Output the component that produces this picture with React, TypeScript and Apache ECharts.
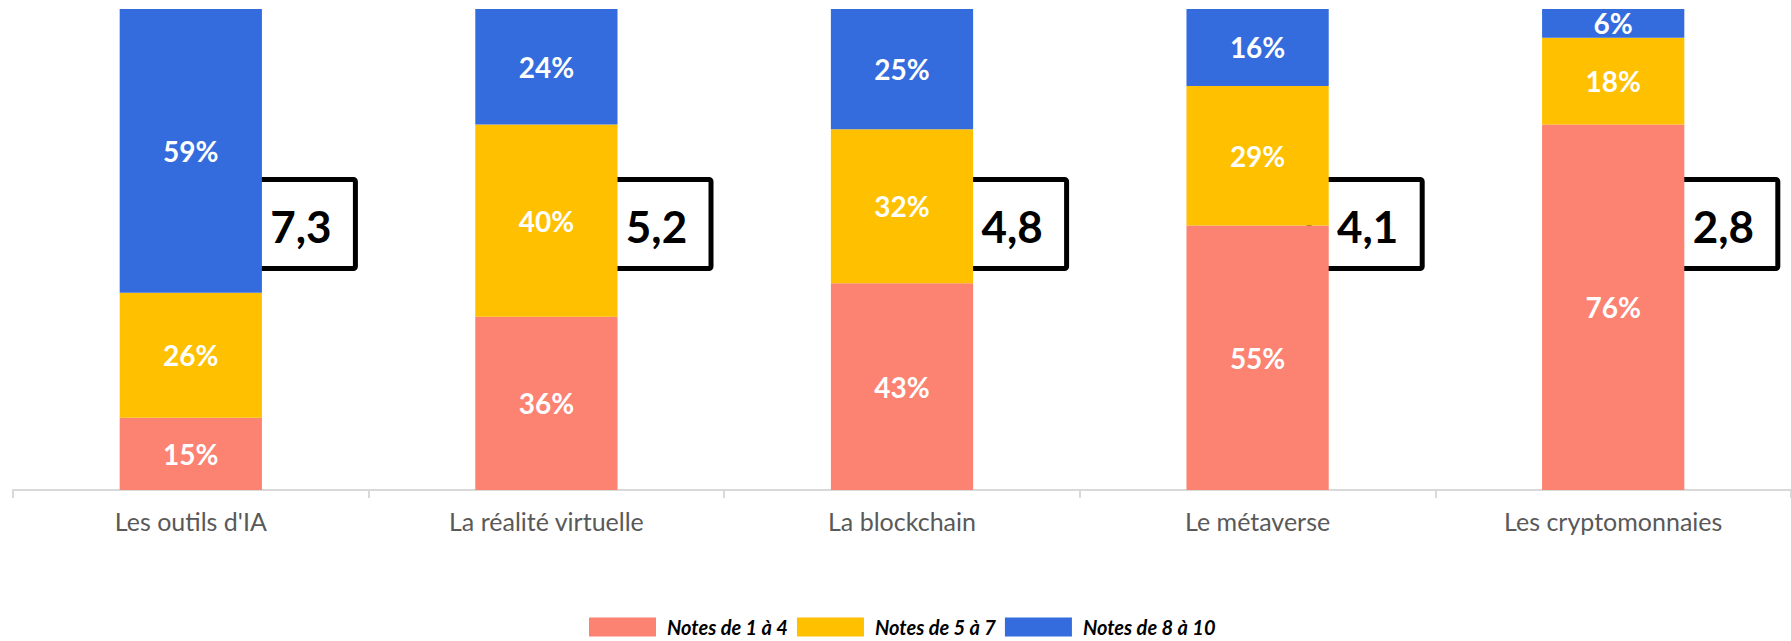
import React, { useEffect, useRef } from "react";
import * as echarts from "echarts";

const CATEGORIES = [
  "Les outils d'IA",
  "La réalité virtuelle",
  "La blockchain",
  "Le métaverse",
  "Les cryptomonnaies",
];
const SERIES_NAMES = ["Notes de 1 à 4", "Notes de 5 à 7", "Notes de 8 à 10"];
const LOW = [15, 36, 43, 55, 76];
const MID = [26, 40, 32, 29, 18];
const HIGH = [59, 24, 25, 16, 6];
const SCORES = [7.3, 5.2, 4.8, 4.1, 2.8];
const BOX_LEVEL = 55.3;

const COLORS = ["#FC8272", "#FFC000", "#346CDE"];

export default function App() {
  const ref = useRef<HTMLDivElement>(null);

  useEffect(() => {
    if (!ref.current) return;
    const chart = echarts.init(ref.current, undefined, { renderer: "svg" });

    const labelStyle = {
      show: true,
      position: "inside",
      color: "#ffffff",
      fontFamily: "Lato",
      fontWeight: "bold",
      fontSize: 28,
      formatter: (p: any) => `${p.value}%`,
    };

    const barSeries = [LOW, MID, HIGH].map((vals, i) => ({
      name: SERIES_NAMES[i],
      type: "bar",
      stack: "total",
      barWidth: "40%",
      z: 3,
      itemStyle: { color: COLORS[i] },
      label: labelStyle,
      data: vals,
    }));

    const option: any = {
      animation: false,
      grid: { left: 13, right: -10, top: 9, bottom: 151, containLabel: false },
      legend: {
        data: SERIES_NAMES,
        left: 589,
        top: 617,
        padding: 0,
        itemWidth: 67,
        itemHeight: 19,
        itemGap: 9,
        icon: "rect",
        textStyle: {
          fontFamily: "Lato",
          fontWeight: "bold",
          fontStyle: "italic",
          fontSize: 20,
          lineHeight: 19,
          color: "#000000",
          padding: [0, 0, 0, 6],
        },
      },
      xAxis: {
        type: "category",
        data: CATEGORIES,
        axisLine: { show: true, lineStyle: { color: "#d9d9d9", width: 2 } },
        axisTick: { show: true, length: 8, lineStyle: { color: "#d9d9d9", width: 2 } },
        axisLabel: {
          color: "#595959",
          fontFamily: "Lato",
          fontSize: 25,
          margin: 18,
        },
      },
      yAxis: { type: "value", min: 0, max: 100, show: false },
      series: [
        ...barSeries,
        {
          type: "custom",
          name: "score",
          z: 1,
          clip: false,
          data: SCORES.map((s, i) => [i, s]),
          encode: { x: 0, y: 1 },
          renderItem: (params: any, api: any) => {
            const idx = api.value(0);
            const score = api.value(1);
            const pt = api.coord([idx, BOX_LEVEL]);
            const band = api.size([1, 0])[0];
            const cx = pt[0] + band * 0.304;
            const cy = pt[1];
            const w = 113;
            const h = 89;
            return {
              type: "group",
              children: [
                {
                  type: "rect",
                  shape: { x: cx - w / 2, y: cy - h / 2, width: w, height: h, r: 2 },
                  style: { fill: "#ffffff", stroke: "#000000", lineWidth: 5 },
                },
                {
                  type: "text",
                  x: cx + 2,
                  y: cy + 2,
                  style: {
                    text: Number(score).toFixed(1).replace(".", ","),
                    fill: "#000000",
                    font: "bold 44px Lato",
                    align: "center",
                    verticalAlign: "middle",
                  },
                },
              ],
            };
          },
        },
      ],
    };

    chart.setOption(option);
    return () => chart.dispose();
  }, []);

  return (
    <div
      ref={ref}
      style={{ position: "absolute", left: 0, top: 0, width: 1791, height: 641 }}
    />
  );
}
